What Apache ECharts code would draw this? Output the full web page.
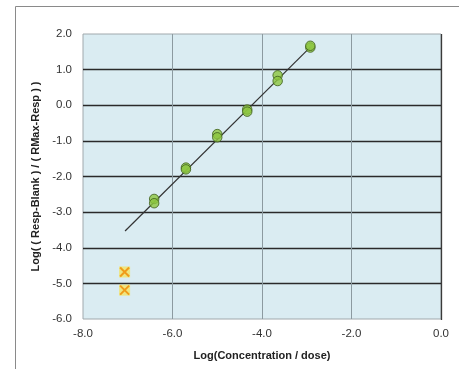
<!DOCTYPE html>
<html><head><meta charset="utf-8">
<script src="https://cdn.jsdelivr.net/npm/echarts@6/dist/echarts.min.js"></script>
<style>html,body{margin:0;padding:0;background:#fff}#c{width:459px;height:369px}</style>
</head><body><div id="c"></div>
<script>
// Included points: log(concentration) and log response ratio
const logConc = [-2.92, -2.92, -3.65, -3.65, -4.33, -4.33, -5.0, -5.0, -5.70, -5.70, -6.41, -6.41];
const logResp = [1.62, 1.67, 0.84, 0.68, -0.12, -0.18, -0.81, -0.90, -1.75, -1.80, -2.63, -2.75];
// Excluded points
const outConc = [-7.07, -7.07];
const outResp = [-4.68, -5.19];
// Fitted line endpoints
const fitConc = [-7.06, -2.92];
const fitResp = [-3.53, 1.63];
const xTicks = [-8, -6, -4, -2, 0];
const yTicks = [-6, -5, -4, -3, -2, -1, 0, 1, 2];

const pts = logConc.map((x, i) => [x, logResp[i]]);
const outs = outConc.map((x, i) => [x, outResp[i]]);
const fit = fitConc.map((x, i) => [x, fitResp[i]]);

const chart = echarts.init(document.getElementById('c'));
chart.setOption({
  animation: false,
  backgroundColor: '#fff',
  graphic: [
    {type: 'line', shape: {x1: 15.5, y1: 6.5, x2: 459, y2: 6.5}, style: {stroke: '#8a8a8a', lineWidth: 1}},
    {type: 'line', shape: {x1: 15.5, y1: 6.5, x2: 15.5, y2: 369}, style: {stroke: '#8a8a8a', lineWidth: 1}},
    {type: 'line', shape: {x1: 441.5, y1: 34, x2: 441.5, y2: 320}, style: {stroke: '#3a3a3a', lineWidth: 1.3}, z: 10}
  ],
  grid: {left: 83, right: 18, top: 34, bottom: 50, show: true, backgroundColor: '#daecf2', borderColor: '#a0a8ac', borderWidth: 1},
  xAxis: {
    type: 'value', min: -8, max: 0, interval: 2,
    name: 'Log(Concentration / dose)', nameLocation: 'middle', nameGap: 31,
    nameTextStyle: {fontFamily: 'Liberation Sans, Arial', fontWeight: 'bold', fontSize: 11, color: '#222'},
    axisLine: {show: false}, axisTick: {show: false},
    axisLabel: {fontFamily: 'Liberation Sans, Arial', fontSize: 11.5, color: '#333', margin: 9,
      formatter: v => v.toFixed(1)},
    splitLine: {show: true, showMinLine: false, showMaxLine: false, lineStyle: {color: '#8c9aa0', width: 1}}
  },
  yAxis: {
    type: 'value', min: -6, max: 2, interval: 1,
    name: 'Log( ( Resp-Blank ) / ( RMax-Resp ) )', nameLocation: 'middle', nameGap: 40,
    nameTextStyle: {fontFamily: 'Liberation Sans, Arial', fontWeight: 'bold', fontSize: 11, color: '#222'},
    axisLine: {show: false}, axisTick: {show: false},
    axisLabel: {fontFamily: 'Liberation Sans, Arial', fontSize: 11.5, color: '#333', margin: 11,
      formatter: v => v.toFixed(1)},
    splitLine: {show: true, showMinLine: false, showMaxLine: false, lineStyle: {color: '#2a2a2a', width: 1.3}}
  },
  series: [
    {type: 'line', data: fit, showSymbol: false, symbol: 'none', lineStyle: {color: '#333', width: 1.2}, z: 3},
    {type: 'scatter', data: pts, symbol: 'circle', symbolSize: 9.5,
      itemStyle: {color: '#8cc63e', borderColor: '#3d5e1c', borderWidth: 1}, z: 4},
    {type: 'scatter', data: outs, symbol: 'rect', symbolSize: 11,
      itemStyle: {color: 'rgba(255,225,40,0.7)'}, z: 4},
    {type: 'scatter', data: outs, symbol: 'path://M0,0L10,10M10,0L0,10', symbolSize: 9,
      itemStyle: {color: 'transparent', borderColor: '#f08a00', borderWidth: 2}, z: 5}
  ]
});
</script></body></html>
